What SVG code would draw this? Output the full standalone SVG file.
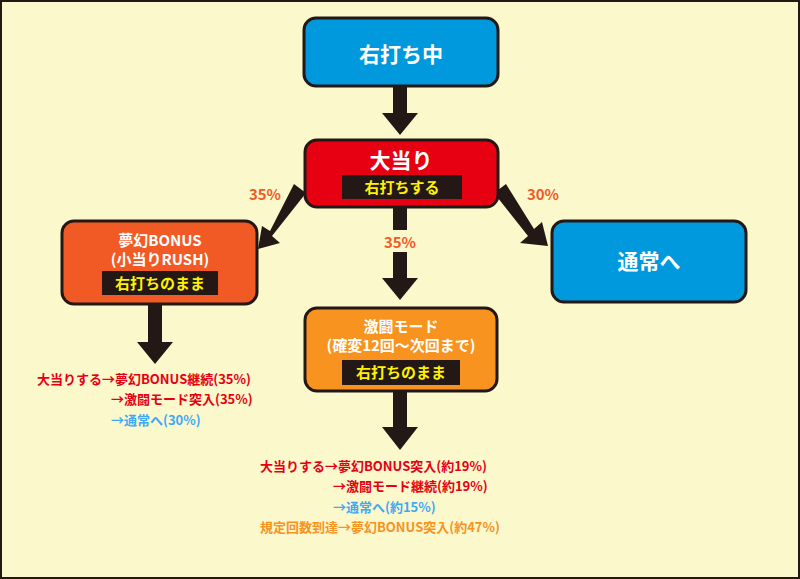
<svg xmlns="http://www.w3.org/2000/svg" width="800" height="579" viewBox="0 0 800 579">
<style>
.n{stroke:#231815;stroke-width:3}
.t{font-family:"Noto Sans CJK JP","Noto Sans",sans-serif;font-weight:bold;text-anchor:middle}
.w{fill:#fff}
.y{fill:#fff100}
.l{font-family:"Noto Sans CJK JP","Noto Sans",sans-serif;font-weight:bold;font-size:13px}
.r{fill:#e60012}.b{fill:#3fa9f5}.o{fill:#f7931e}.p{fill:#f15a24}
.a{fill:#231815}
</style>
<rect x="1" y="1" width="798" height="577" fill="#fbf8cc" stroke="#231815" stroke-width="2"/>
<g id="connectors">
<polygon class="a" points="393,86 407,86 407,113 418,113 400,135 382,113 393,113"/>
<polygon class="a" points="393,207 407,207 407,230 393,230"/>
<polygon class="a" points="393,252 407,252 407,278 418,278 400,300 382,278 393,278"/>
<polygon class="a" points="294,184 306,193 272,236 280,243 258,249 262,226 270,231"/>
<polygon class="a" points="506,184 494,193 528,236 520,243 548,246 542,222 534,229"/>
<polygon class="a" points="148,304 162,304 162,342 173,342 155,364 137,342 148,342"/>
<polygon class="a" points="393,391 407,391 407,427 418,427 400,450 382,427 393,427"/>
<text class="t p" x="265" y="200" font-size="15" font-weight="normal">35%</text>
<text class="t p" x="400" y="248" font-size="15">35%</text>
<text class="t p" x="543" y="200" font-size="15">30%</text>
</g>
<g id="n1">
<rect class="n" x="304" y="18" width="194" height="68" rx="12" fill="#0099dd"/>
<text class="t w" x="401" y="62" font-size="21">右打ち中</text>
</g>
<g id="n2">
<rect class="n" x="305" y="140" width="193" height="67" rx="12" fill="#e60012"/>
<text class="t w" x="401" y="168" font-size="21">大当り</text>
<rect x="342" y="175" width="120" height="24" fill="#231815"/>
<text class="t y" x="402" y="193" font-size="15">右打ちする</text>
</g>
<g id="n3">
<rect class="n" x="62" y="221" width="195" height="83" rx="12" fill="#f15a24"/>
<text class="t w" x="160" y="246" font-size="15">夢幻BONUS</text>
<text class="t w" x="160" y="265" font-size="15">(小当りRUSH)</text>
<rect x="102" y="271" width="116" height="24" fill="#231815"/>
<text class="t y" x="160" y="289" font-size="15">右打ちのまま</text>
</g>
<g id="n4">
<rect class="n" x="552" y="221" width="194" height="81" rx="12" fill="#0099dd"/>
<text class="t w" x="649" y="269" font-size="21">通常へ</text>
</g>
<g id="n5">
<rect class="n" x="305" y="308" width="192" height="83" rx="12" fill="#f7931e"/>
<text class="t w" x="401" y="332" font-size="15">激闘モード</text>
<text class="t w" x="401" y="351" font-size="15">(確変12回～次回まで)</text>
<rect x="342" y="360" width="118" height="25" fill="#231815"/>
<text class="t y" x="401" y="378" font-size="15">右打ちのまま</text>
</g>
<g id="list1">
<text class="l r" x="37" y="384">大当りする→夢幻BONUS継続(35%)</text>
<text class="l r" x="111" y="404">→激闘モード突入(35%)</text>
<text class="l b" x="111" y="425">→通常へ(30%)</text>
</g>
<g id="list2">
<text class="l r" x="260" y="471">大当りする→夢幻BONUS突入(約19%)</text>
<text class="l r" x="333" y="491">→激闘モード継続(約19%)</text>
<text class="l b" x="333" y="512">→通常へ(約15%)</text>
<text class="l o" x="260" y="532">規定回数到達→夢幻BONUS突入(約47%)</text>
</g>
</svg>
